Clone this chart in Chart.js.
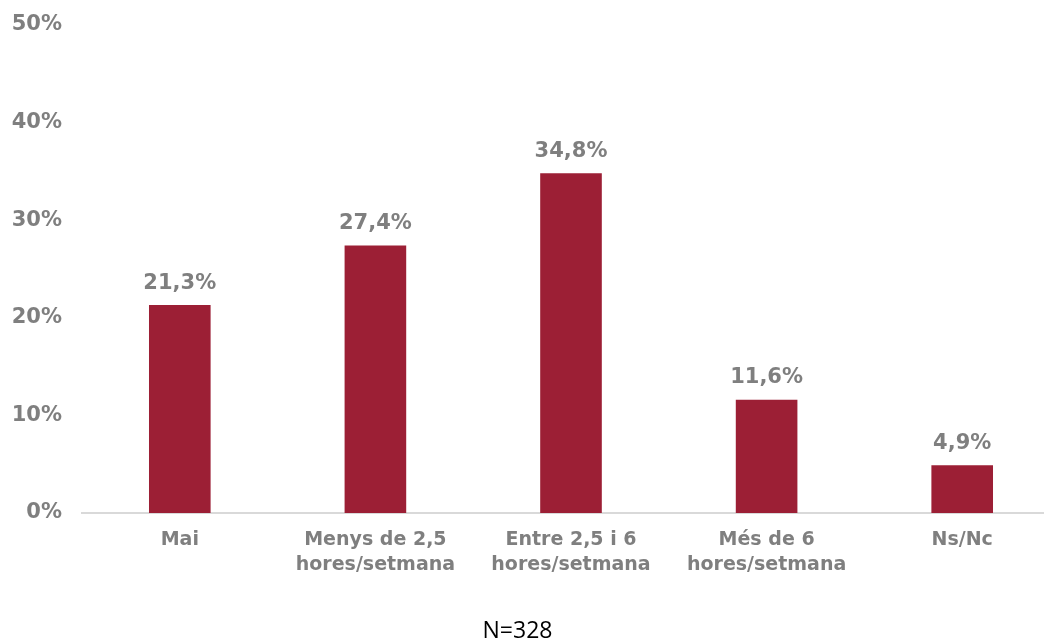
<!DOCTYPE html>
<html>
<head>
<meta charset="utf-8">
<script src="https://cdn.jsdelivr.net/npm/chart.js@4/dist/chart.umd.min.js"></script>
<style>
  html, body { margin: 0; padding: 0; background: #fff; overflow: hidden; }
  #wrap { position: relative; width: 1064px; height: 638px; }
  #note { position: absolute; left: 0; width: 1035px; top: 615px; text-align: center;
          font-family: "Open Sans", sans-serif; font-size: 23px; color: #000; line-height: 28px; }
</style>
</head>
<body>
<div id="wrap">
  <canvas id="barChart" width="1064" height="638"></canvas>
  <div id="note">N=328</div>
</div>
<script>
// categories (multi-line labels) and percentages
var categories = [
  ["Mai"],
  ["Menys de 2,5", "hores/setmana"],
  ["Entre 2,5 i 6", "hores/setmana"],
  ["Més de 6", "hores/setmana"],
  ["Ns/Nc"]
];
var values = [21.3, 27.4, 34.8, 11.6, 4.9];
var yTicks = [0, 10, 20, 30, 40, 50];

var gray = "#7f7f7f";
var barColor = "#9c1f35";

function fmt(v){
  return v.toFixed(1).replace(".", ",") + "%";
}

// draws the value over each bar
var valueLabels = {
  id: "valueLabels",
  afterDatasetsDraw: function(chart){
    var ctx = chart.ctx;
    var meta = chart.getDatasetMeta(0);
    ctx.save();
    ctx.font = "bold 21px 'DejaVu Sans'";
    ctx.fillStyle = gray;
    ctx.textAlign = "center";
    ctx.textBaseline = "middle";
    meta.data.forEach(function(bar, i){
      ctx.fillText(fmt(values[i]), bar.x, bar.y - 22);
    });
    ctx.restore();
  }
};

new Chart("barChart", {
  type: "bar",
  data: {
    labels: categories,
    datasets: [{
      data: values,
      backgroundColor: barColor,
      barPercentage: 0.315,
      categoryPercentage: 1
    }]
  },
  options: {
    responsive: false,
    animation: false,
    layout: { padding: { top: 25, right: 4, left: 0, bottom: 0 } },
    plugins: {
      legend: { display: false },
      tooltip: { enabled: false }
    },
    scales: {
      x: {
        grid: { display: false, drawTicks: false },
        border: { display: true, color: "#d9d9d9", width: 2 },
        ticks: {
          color: gray,
          padding: 15,
          maxRotation: 0,
          autoSkip: false,
          font: { family: "DejaVu Sans", size: 19, weight: "bold", lineHeight: 1.3 }
        },
        afterFit: function(scale){ scale.height = 125; }
      },
      y: {
        min: 0,
        max: 50,
        afterBuildTicks: function(scale){
          scale.ticks = yTicks.map(function(v){ return { value: v }; });
        },
        grid: { display: false, drawTicks: false },
        border: { display: false },
        ticks: {
          color: gray,
          padding: 20,
          font: { family: "DejaVu Sans", size: 21, weight: "bold" },
          callback: function(v){ return v + "%"; }
        },
        afterFit: function(scale){
          scale.width = 82;
          scale.paddingTop = 0;
          scale.paddingBottom = 0;
        }
      }
    }
  },
  plugins: [valueLabels]
});
</script>
</body>
</html>
